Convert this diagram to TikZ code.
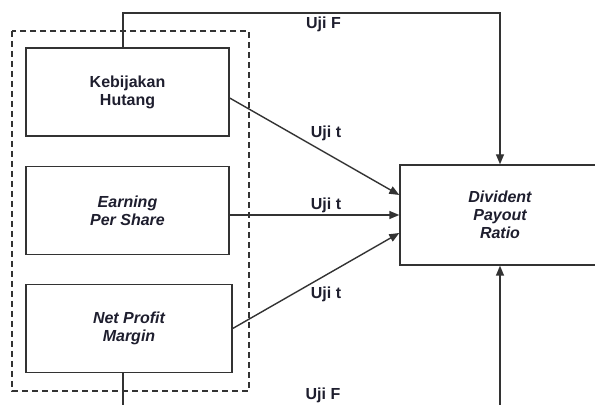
\documentclass[tikz,border=0pt]{standalone}
\usepackage{fontspec}
\setmainfont{Liberation Sans}
\usepackage{tikz}
\usetikzlibrary{arrows.meta,positioning,calc}
\definecolor{ink}{HTML}{1E1E2E}
\definecolor{wire}{HTML}{333333}

\begin{document}
\begin{tikzpicture}[x=0.5pt,y=-0.5pt,
    font=\bfseries\fontsize{8}{9}\selectfont,text=ink,
    var/.style={draw=wire,line width=0.7pt,align=center,inner sep=0pt,
                minimum width=101.5pt,minimum height=44pt},
    link/.style={draw=wire,line width=0.7pt,-{Triangle[length=5pt,width=4pt]}},
    uji/.style={inner sep=1pt}]
  \useasboundingbox (0,0) rectangle (595,405);
  % variabel bebas dan terikat
  \node[var] (kh) at (127.5,92) {Kebijakan\\Hutang};
  \node[var] (eps) at (127.5,210.5) {\itshape Earning\\\itshape Per Share};
  \node[var,minimum width=103pt] (npm) at (129,328.5) {\itshape Net Profit\\\itshape Margin};
  \node[var,minimum width=100pt,minimum height=50pt] (dpr) at (500,215)
    {\itshape Divident\\\itshape Payout\\\itshape Ratio};
  \draw[wire,line width=0.7pt,dashed,dash pattern=on 3pt off 2pt] (12,31) rectangle (249,391);
  % uji simultan
  \coordinate (topL) at (123,13);
  \coordinate (botL) at (123,430);
  \draw[link] (kh.north -| topL) -- (topL) -| (dpr.north);
  \draw[link] (npm.south -| botL) -- (botL) -| (dpr.south);
  % uji parsial
  \draw[link] ($(kh.east)+(0,6)$) -- ($(dpr.west)+(0,-20)$);
  \draw[link] (eps.east |- dpr.west) -- (dpr.west);
  \draw[link] (npm.east) -- ($(dpr.west)+(0,18)$);
  \node[uji] (f1) at (323.5,24) {Uji F};
  \node[uji] (t1) at (326,133) {Uji t};
  \node[uji] (t2) at (326,205) {Uji t};
  \node[uji] (t3) at (326,294) {Uji t};
  \node[uji] (f2) at (323,395) {Uji F};
\end{tikzpicture}
\end{document}
